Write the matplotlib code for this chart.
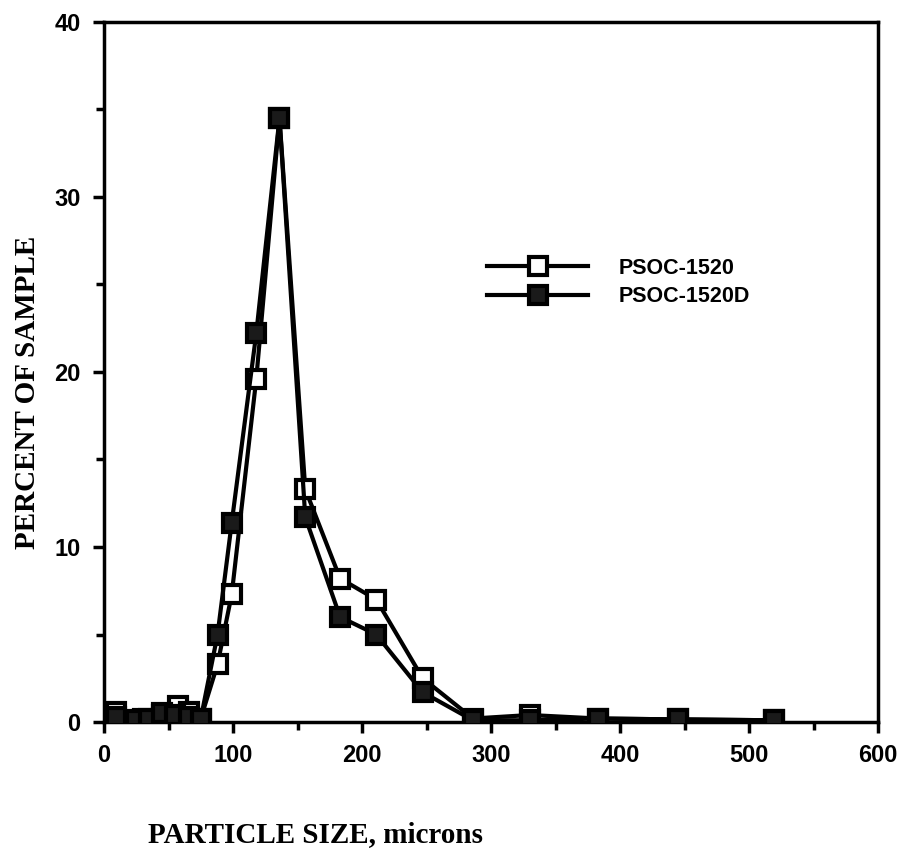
import numpy as np
import matplotlib
matplotlib.use('Agg')
import matplotlib.pyplot as plt
from matplotlib.ticker import MultipleLocator

# Particle size distribution, two coal samples
size_1520 = [9, 30, 45, 57, 66, 75, 88, 99, 118, 136, 156, 183, 211, 247, 286, 330, 383, 445, 519]
pct_1520 = [0.6, 0.2, 0.4, 0.9, 0.6, 0.2, 3.3, 7.3, 19.6, 34.5, 13.3, 8.2, 7.0, 2.5, 0.2, 0.4, 0.2, 0.15, 0.1]

size_1520d = [9, 25, 35, 45, 55, 66, 75, 88, 99, 118, 136, 156, 183, 211, 247, 286, 330, 383, 445, 519]
pct_1520d = [0.3, 0.1, 0.2, 0.5, 0.4, 0.3, 0.2, 5.0, 11.4, 22.2, 34.5, 11.7, 6.0, 5.0, 1.7, 0.1, 0.1, 0.2, 0.15, 0.1]

fig = plt.figure(figsize=(9, 8.65), dpi=100)
ax = fig.add_axes([0.1156, 0.1653, 0.86, 0.8093])

ax.plot(size_1520, pct_1520, color='black', lw=3, marker='s', ms=13,
        mfc='white', mec='black', mew=3, label='PSOC-1520', zorder=2)
ax.plot(size_1520d, pct_1520d, color='black', lw=3, marker='s', ms=13,
        mfc='#1a1a1a', mec='black', mew=3, label='PSOC-1520D', zorder=3)

ax.set_xlim(0, 600)
ax.set_ylim(0, 40)
ax.xaxis.set_major_locator(MultipleLocator(100))
ax.xaxis.set_minor_locator(MultipleLocator(50))
ax.yaxis.set_major_locator(MultipleLocator(10))
ax.yaxis.set_minor_locator(MultipleLocator(5))

tick_font = {'family': 'Liberation Sans', 'weight': 'bold', 'size': 17}
ax.tick_params(which='both', direction='out', width=2.5, top=False, right=False)
ax.tick_params(which='major', length=8)
ax.tick_params(which='minor', length=6)
ax.tick_params(axis='x', pad=8)
ax.tick_params(axis='y', pad=9)
for lbl in ax.get_xticklabels() + ax.get_yticklabels():
    lbl.set_fontproperties(matplotlib.font_manager.FontProperties(**tick_font))

for sp in ax.spines.values():
    sp.set_linewidth(2.5)

leg = ax.legend(loc='upper left', bbox_to_anchor=(0.495, 0.663), frameon=False,
                handlelength=4.7, handletextpad=1.4, labelspacing=0.35,
                borderpad=0, borderaxespad=0,
                prop={'family': 'Liberation Sans', 'weight': 'bold', 'size': 15.5})

fig.text(0.351, 0.02, 'PARTICLE SIZE, microns', family='Liberation Serif',
         weight='bold', size=21, ha='center', va='bottom')
fig.text(0.031, 0.546, 'PERCENT OF SAMPLE', family='Liberation Serif',
         weight='bold', size=21, ha='center', va='center', rotation=90)

fig.savefig('out.png', dpi=100)
